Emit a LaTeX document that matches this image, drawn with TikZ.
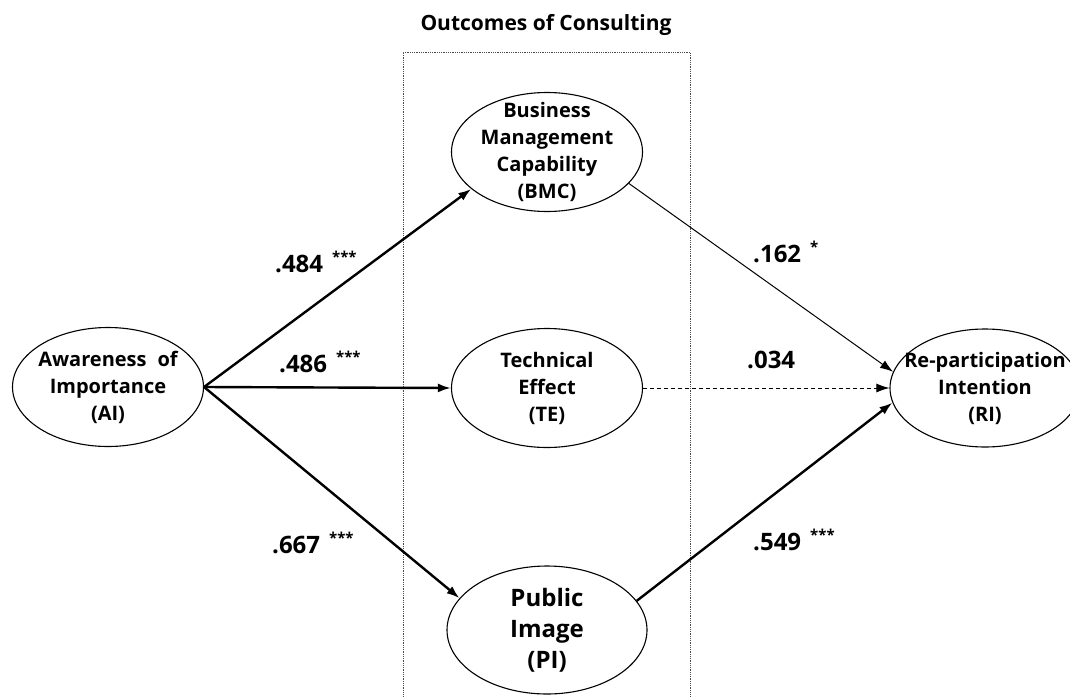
\documentclass[tikz,border=0pt]{standalone}
\usepackage{fontspec}
\setmainfont{Open Sans}
\usetikzlibrary{shapes.geometric, arrows.meta}

\begin{document}
\begin{tikzpicture}[
    % Global Styles (1 unit = 1 pixel of the layout)
    x=1pt, y=-1pt,
    font=\bfseries,
    >={Latex[length=13pt,width=9pt]},
    % Style for the constructs
    construct/.style={ellipse, draw=black, line width=1.1pt, inner sep=-30pt, align=center,
        minimum width=191pt, minimum height=119pt, font=\fontsize{20}{27}\selectfont\bfseries},
    % Styles for the paths
    strong/.style={->, line width=2.4pt},
    weak/.style={->, line width=1pt},
    nsig/.style={->, line width=1pt, dash pattern=on 4pt off 3pt},
    % Style for the coefficients
    coef/.style={anchor=base west, inner sep=0pt, font=\fontsize{24}{24}\selectfont\bfseries},
    frame/.style={densely dotted, line width=0.8pt, black!70}
]

\clip (0,0) rectangle (1070,696);

%% --- MEDIATOR BOX ---
\node[anchor=base, font=\fontsize{21}{21}\selectfont\bfseries] (title) at (546,30) {Outcomes of Consulting};
\draw[frame] (403,700) |- (690,52) -- (690,700);

%% --- CONSTRUCTS ---
\node[construct] (AI) at (108,387) {Awareness\hspace{11pt}of\\Importance\\(AI)};
\node[construct] (BMC) at (547,152) {Business\\Management\\Capability\\(BMC)};
\node[construct] (TE) at (547,388) {Technical\\Effect\\(TE)};
\node[construct, minimum width=200pt, minimum height=128pt, font=\fontsize{24}{31}\selectfont\bfseries] (PI) at (547,630) {Public\\Image\\(PI)};
\node[construct, minimum width=190pt, minimum height=118pt] (RI) at (985,388) {Re-participation\\Intention\\(RI)};

%% --- PATHS ---
\draw[strong] (AI.east) -- (BMC.206);
\draw[strong] (AI.east) -- (TE.west);
\draw[strong] (AI.east) -- (PI.160);
\draw[weak] (BMC.-21) -- (RI.170);
\draw[nsig] (TE.east) -- (RI.west);
\draw[strong] (PI.18) -- (RI.189);

%% --- COEFFICIENTS ---
\newcommand{\stars}[1]{\hspace{9pt}\raisebox{10pt}{\fontsize{15}{15}\selectfont #1}}
\node[coef] (c484) at (275,272) {.484\stars{***}};
\node[coef] (c486) at (279,372) {.486\stars{***}};
\node[coef] (c667) at (272,553) {.667\stars{***}};
\node[coef] (c162) at (753,262) {.162\stars{*}};
\node[coef] (c034) at (747,368) {.034};
\node[coef] (c549) at (753,550) {.549\stars{***}};

\end{tikzpicture}
\end{document}
